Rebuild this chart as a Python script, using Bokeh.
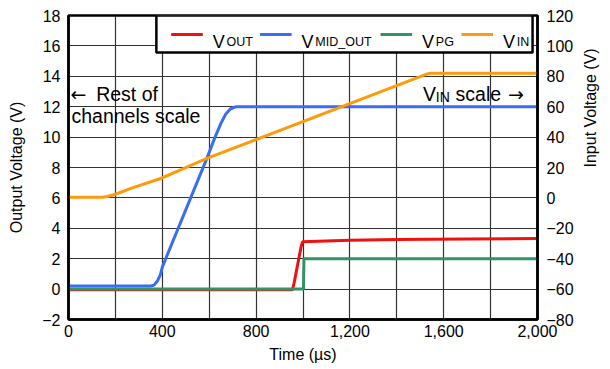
import math

from bokeh.plotting import figure
from bokeh.models import (Range1d, LinearAxis, FixedTicker, NumeralTickFormatter,
                          Label, BoxAnnotation)
from bokeh.embed import file_html
from bokeh.resources import INLINE

# ---- waveform data (time in microseconds) ----
t_vout = [0, 955, 962, 972, 982, 992, 998, 1100, 1200, 1400, 1700, 2000]
vout = [-0.05, -0.05, 0.4, 1.2, 2.0, 2.8, 3.11, 3.17, 3.21, 3.26, 3.30, 3.33]

t_vmid = [0, 350, 365, 380, 392, 400, 590, 625, 650, 670, 690, 715, 2000]
vmid = [0.2, 0.2, 0.26, 0.55, 0.95, 1.45, 8.6, 10.0, 10.9, 11.5, 11.85, 12.0, 12.0]

t_vpg = [0, 1002, 1004, 2000]
vpg = [0.0, 0.0, 2.0, 2.0]

t_vin = [0, 145, 165, 200, 275, 390, 490, 590, 1530, 1545, 2000]
vin = [0.5, 0.5, 0.9, 2.4, 6.8, 12.6, 19.2, 26.0, 81.6, 82.0, 82.0]

# ---- axes ----
x_ticks = [0, 400, 800, 1200, 1600, 2000]
x_grid = [200, 400, 600, 800, 1000, 1200, 1400, 1600, 1800]
left_ticks = [-2, 0, 2, 4, 6, 8, 10, 12, 14, 16, 18]
right_ticks = [-80, -60, -40, -20, 0, 20, 40, 60, 80, 100, 120]

series_names = ["OUT", "MID_OUT", "PG", "IN"]
series_colors = ["#f01010", "#3a6cf4", "#2f9466", "#ff9a0a"]

FONT = "Liberation Sans"
ARROW_FONT = "DejaVu Sans"

p = figure(width=610, height=369, output_backend="svg", toolbar_location=None,
           x_range=Range1d(0, 2000), y_range=Range1d(-2, 18),
           min_border_left=68, min_border_right=67, min_border_top=15,
           min_border_bottom=50)
p.extra_y_ranges = {"vin": Range1d(-80, 120)}
p.background_fill_color = "white"
p.border_fill_color = "white"
p.outline_line_color = "black"
p.outline_line_width = 2.5

# grid
p.xgrid.ticker = FixedTicker(ticks=x_grid)
p.ygrid.ticker = FixedTicker(ticks=left_ticks)
for g in (p.xgrid, p.ygrid):
    g.grid_line_color = "#333333"
    g.grid_line_width = 1.2

def style_axis(ax):
    ax.axis_line_color = "black"
    ax.axis_line_width = 2.5
    ax.major_tick_in = 0
    ax.major_tick_out = 0
    ax.minor_tick_in = 0
    ax.minor_tick_out = 0
    ax.major_label_text_font = FONT
    ax.major_label_text_font_size = "16px"
    ax.major_label_text_color = "black"
    ax.axis_label_text_font = FONT
    ax.axis_label_text_font_size = "16px"
    ax.axis_label_text_font_style = "normal"
    ax.axis_label_text_color = "black"

xa = p.xaxis[0]
xa.ticker = FixedTicker(ticks=x_ticks)
xa.formatter = NumeralTickFormatter(format="0,0")
xa.axis_label = "Time (µs)"
style_axis(xa)
xa.major_label_standoff = 5
xa.axis_label_standoff = 6

ya = p.yaxis[0]
ya.ticker = FixedTicker(ticks=left_ticks)
ya.axis_label = "Output Voltage (V)"
style_axis(ya)
ya.major_label_standoff = 8
ya.axis_label_standoff = 14

# right axis for the input voltage, title reading bottom to top
ra = LinearAxis(y_range_name="vin", ticker=FixedTicker(ticks=right_ticks),
                axis_label="Input Voltage (V)")
style_axis(ra)
ra.major_label_standoff = 9
ra.axis_label_standoff = 14
ra.axis_label_orientation = math.pi / 2
p.add_layout(ra, "right")

# traces
p.line(t_vout, vout, color=series_colors[0], line_width=3)
p.line(t_vpg, vpg, color=series_colors[2], line_width=3)
p.line(t_vmid, vmid, color=series_colors[1], line_width=3)
p.line(t_vin, vin, color=series_colors[3], line_width=3, y_range_name="vin")

# pixel helpers for placing the annotations relative to the frame
def px_x(px):
    return (px - 68) / 475 * 2000

def px_y(py):
    return (319 - py) / 304 * 20 - 2

# legend box
p.add_layout(BoxAnnotation(left=px_x(157), right=px_x(538), top=18, bottom=px_y(52),
                           fill_color="white", fill_alpha=1.0,
                           line_color="black", line_width=2.5, line_alpha=1.0))

leg_line_x = [172, 262, 384, 466]
leg_text_x = [214, 304, 426, 508]
for name, color, lx, tx in zip(series_names, series_colors, leg_line_x, leg_text_x):
    p.segment(x0=[px_x(lx)], y0=[px_y(34)], x1=[px_x(lx + 32)], y1=[px_y(34)],
              color=color, line_width=3, level="overlay")
    p.add_layout(Label(x=px_x(tx), y=px_y(41), text="V", text_font=FONT,
                       text_font_size="18px", text_color="black",
                       text_baseline="alphabetic", level="overlay"))
    p.add_layout(Label(x=px_x(tx + 14), y=px_y(41.5), text=name, text_font=FONT,
                       text_font_size="12.5px", text_color="black",
                       text_baseline="alphabetic", level="overlay"))

# scale notes
def note(px, py, text, size="19.5px", font=FONT):
    p.add_layout(Label(x=px_x(px), y=px_y(py), text=text, text_font=font,
                       text_font_size=size, text_color="black",
                       text_baseline="alphabetic"))

note(70, 93, "←", "19px", ARROW_FONT)
note(96, 93, "Rest of")
note(71, 115, "channels scale")
note(427, 93, "V")
note(440, 96, "IN", "14px")
note(460, 93, "scale")
note(513, 93, "→", "19px", ARROW_FONT)

open("out.html", "w").write(file_html(p, INLINE))
